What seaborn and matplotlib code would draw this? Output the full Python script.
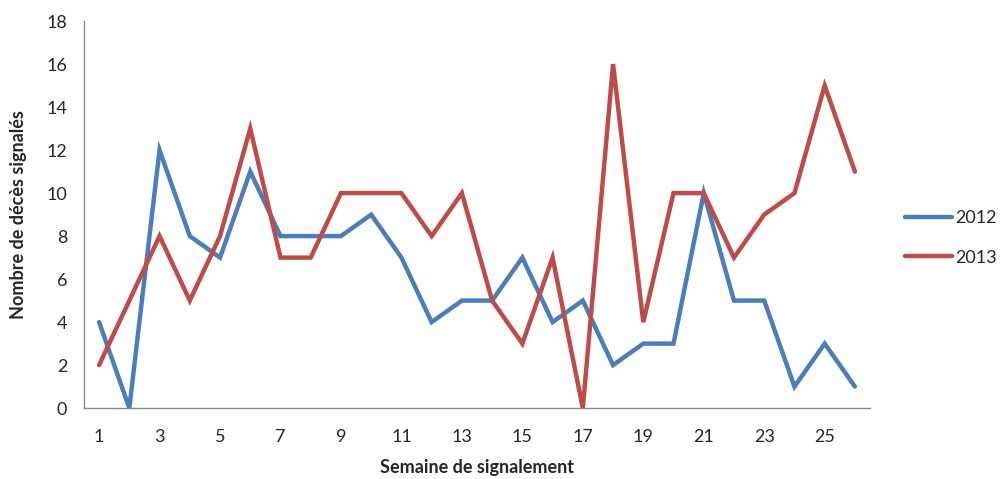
import matplotlib
matplotlib.use('Agg')
import matplotlib.pyplot as plt
import pandas as pd
import numpy as np
import seaborn as sns

# weekly reported deaths
weeks = list(range(1, 27))
deaths_2012 = [4, 0, 12, 8, 7, 11, 8, 8, 8, 9, 7, 4, 5, 5, 7, 4, 5, 2, 3, 3, 10, 5, 5, 1, 3, 1]
deaths_2013 = [2, 5, 8, 5, 8, 13, 7, 7, 10, 10, 10, 8, 10, 5, 3, 7, 0, 16, 4, 10, 10, 7, 9, 10, 15, 11]
years = ['2012', '2013']
x_labels = [str(w) for w in weeks if w % 2 == 1]
y_ticks = list(range(0, 19, 2))

df = pd.DataFrame({
    'semaine': weeks * 2,
    'deces': deaths_2012 + deaths_2013,
    'annee': [years[0]] * len(weeks) + [years[1]] * len(weeks),
})

sns.set_style('white')
plt.rcParams['font.family'] = ['Lato', 'DejaVu Sans']

fig = plt.figure(figsize=(10.02, 4.79), dpi=100)
ax = fig.add_axes([0.0838, 0.148, 0.7845, 0.808])

colors = {'2012': '#4A7EBB', '2013': '#BE4B48'}
sns.lineplot(data=df, x='semaine', y='deces', hue='annee', palette=colors,
             linewidth=3.2, ax=ax, solid_capstyle='round', solid_joinstyle='miter')

axis_gray = '#868686'
ax.set_xlim(0.5, 26.5)
ax.set_ylim(0, 18)
ax.set_yticks(y_ticks)
ax.set_xticks([w for w in weeks if w % 2 == 1])
ax.set_xticklabels(x_labels)
ax.set_xticks(np.arange(0.5, 27, 1), minor=True)
ax.tick_params(axis='x', which='major', length=0, pad=15, labelsize=13)
ax.tick_params(axis='x', which='minor', length=5, color=axis_gray, width=1, direction='out')
ax.tick_params(axis='y', which='major', length=5, color=axis_gray, width=1,
               direction='out', labelsize=13, pad=7)

for side in ['top', 'right']:
    ax.spines[side].set_visible(False)
for side in ['left', 'bottom']:
    ax.spines[side].set_color(axis_gray)
    ax.spines[side].set_linewidth(1)

ax.set_xlabel('Semaine de signalement', fontsize=13, fontweight='bold', labelpad=10)
ax.set_ylabel('Nombre de décès signalés', fontsize=13, fontweight='bold', labelpad=14)

handles, labels = ax.get_legend_handles_labels()
ax.legend(handles, labels, loc='center left', bbox_to_anchor=(1.035, 0.44),
          frameon=False, fontsize=13, handlelength=2.6, labelspacing=1.3,
          handletextpad=0.2, borderaxespad=0)

fig.savefig('out.png', dpi=100)
plt.close(fig)
